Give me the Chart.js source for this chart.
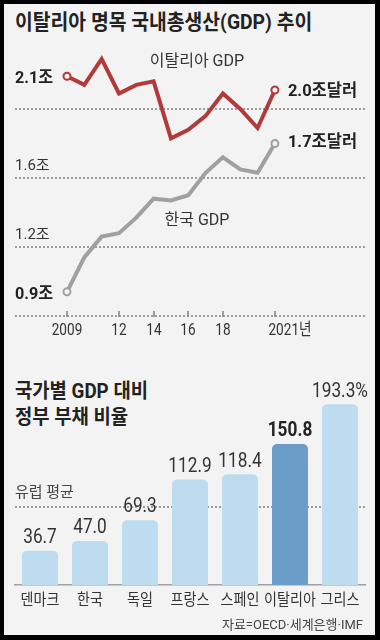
<!DOCTYPE html>
<html lang="ko">
<head>
<meta charset="utf-8">
<script src="https://cdn.jsdelivr.net/npm/chart.js@4.4.1/dist/chart.umd.min.js"></script>
<style>
  body { margin: 0; background: #000; width: 380px; height: 640px; overflow: hidden; position: relative;
         font-family: Roboto, 'Noto Sans CJK KR', sans-serif; }
  #paper { position: absolute; left: 4px; top: 4px; width: 371px; height: 631px; background: #f3f3f3; }
  .title { position: absolute; left: 15px; font-weight: 700; color: #222; white-space: nowrap;
           transform-origin: left center; }
  canvas { position: absolute; left: 0; }
</style>
</head>
<body>
<div id="paper"></div>
<div class="title" style="top:8px; font-size:21px; line-height:28px; transform:scaleX(0.92)">이탈리아 명목 국내총생산(GDP) 추이</div>
<canvas id="gdpChart" width="380" height="350" style="top:0"></canvas>
<div class="title" style="top:378px; font-size:20px; line-height:26px; transform:scaleX(0.94)">국가별 GDP 대비<br>정부 부채 비율</div>
<canvas id="debtChart" width="380" height="290" style="top:350px"></canvas>
<script>
// GDP, 조 달러
const years = [2009, 2010, 2011, 2012, 2013, 2014, 2015, 2016, 2017, 2018, 2019, 2020, 2021];
const italyGdp = [2.19, 2.14, 2.29, 2.09, 2.14, 2.16, 1.83, 1.88, 1.96, 2.09, 2.00, 1.89, 2.11];
const koreaGdp = [0.94, 1.14, 1.26, 1.28, 1.37, 1.48, 1.47, 1.50, 1.63, 1.72, 1.65, 1.63, 1.80];
const italyEnds = ['2.1조', '2.0조달러'];
const koreaEnds = ['0.9조', '1.7조달러'];
const yTicks = [0.8, 1.2, 1.6, 2.0];
const yTickText = ['', '1.2조', '1.6조', ''];
const xTicks = [2009, 2012, 2014, 2016, 2018, 2021];
const xTickText = ['2009', '12', '14', '16', '18', '2021년'];

// 정부 부채 비율, %
const countries = ['덴마크', '한국', '독일', '프랑스', '스페인', '이탈리아', '그리스'];
const debtRatio = [36.7, 47.0, 69.3, 112.9, 118.4, 150.8, 193.3];
const debtText = ['36.7', '47.0', '69.3', '112.9', '118.4', '150.8', '193.3%'];
const euroAverage = 83;
const source = '자료=OECD·세계은행·IMF';

const FONT = "Roboto, 'Noto Sans CJK KR', sans-serif";
const RED = '#b13a3b';
const GRAY = '#a0a0a0';
const DOTS = '#808080';

function say(ctx, str, x, y, size, opt = {}) {
  ctx.save();
  ctx.font = (opt.bold ? '700 ' : '400 ') + size + 'px ' + FONT;
  ctx.fillStyle = opt.color || '#222';
  ctx.textAlign = opt.align || 'center';
  ctx.textBaseline = 'middle';
  ctx.translate(x, y);
  ctx.scale(opt.sx || 1, 1);
  ctx.fillText(str, 0, 0);
  ctx.restore();
}

function dotted(ctx, x0, x1, py) {
  ctx.save();
  ctx.strokeStyle = DOTS;
  ctx.lineWidth = 1.5;
  ctx.setLineDash([2, 2]);
  ctx.beginPath();
  ctx.moveTo(x0, py);
  ctx.lineTo(x1, py);
  ctx.stroke();
  ctx.restore();
}

const endPoint = c => (c.dataIndex === 0 || c.dataIndex === years.length - 1) ? 3.5 : 0;

const gdpLabels = {
  id: 'gdpLabels',
  beforeDatasetsDraw(chart) {
    const { ctx, chartArea, scales: { y } } = chart;
    yTicks.forEach(v => dotted(ctx, chartArea.left, chartArea.right, Math.round(y.getPixelForValue(v))));
  },
  afterDatasetsDraw(chart) {
    const { ctx, scales: { x, y } } = chart;
    const last = years.length - 1;
    ctx.save();
    ctx.strokeStyle = DOTS;
    ctx.lineWidth = 1.5;
    xTicks.forEach((yr, i) => {
      const px = Math.round(x.getPixelForValue(yr));
      ctx.beginPath();
      ctx.moveTo(px, y.bottom + 1);
      ctx.lineTo(px, y.bottom - 5);
      ctx.stroke();
      const shift = i === xTicks.length - 1 ? 15 : 0;
      say(ctx, xTickText[i], px + shift, y.bottom + 15, 17, { color: '#333', sx: 0.8 });
    });
    ctx.restore();

    const x1 = x.getPixelForValue(years[last]);
    say(ctx, italyEnds[0], 15, y.getPixelForValue(italyGdp[0]) + 3, 17, { bold: true, align: 'left', sx: 0.95 });
    say(ctx, italyEnds[1], x1 + 13, y.getPixelForValue(italyGdp[last]) + 2, 17, { bold: true, align: 'left', sx: 0.97 });
    say(ctx, koreaEnds[0], 15, y.getPixelForValue(koreaGdp[0]) + 3, 17, { bold: true, align: 'left', sx: 0.95 });
    say(ctx, koreaEnds[1], x1 + 13, y.getPixelForValue(koreaGdp[last]) - 1, 17, { bold: true, align: 'left', sx: 0.97 });

    say(ctx, '이탈리아 GDP', x.getPixelForValue(2016.5), y.getPixelForValue(2.27), 16, { color: '#333' });
    say(ctx, '한국 GDP', x.getPixelForValue(2016.5), y.getPixelForValue(1.35), 16, { color: '#333' });
  }
};

new Chart(document.getElementById('gdpChart'), {
  type: 'line',
  data: {
    datasets: [{
      data: years.map((yr, i) => ({ x: yr, y: koreaGdp[i] })),
      borderColor: GRAY,
      borderWidth: 4,
      pointRadius: endPoint,
      pointBackgroundColor: '#f3f3f3',
      pointBorderColor: GRAY,
      pointBorderWidth: 2,
      tension: 0
    }, {
      data: years.map((yr, i) => ({ x: yr, y: italyGdp[i] })),
      borderColor: RED,
      borderWidth: 4,
      pointRadius: endPoint,
      pointBackgroundColor: '#f3f3f3',
      pointBorderColor: RED,
      pointBorderWidth: 2,
      tension: 0
    }]
  },
  options: {
    responsive: false,
    animation: false,
    events: [],
    layout: { padding: { left: 15, right: 15, top: 40, bottom: 34 }, autoPadding: false },
    plugins: { legend: { display: false }, tooltip: { enabled: false } },
    scales: {
      x: { type: 'linear', display: false, min: 2006, max: 2026.2 },
      y: {
        min: 0.8,
        max: 2.4,
        afterBuildTicks(axis) { axis.ticks = yTicks.map(v => ({ value: v })); },
        grid: { display: false, drawTicks: false },
        border: { display: false },
        ticks: {
          mirror: true,
          padding: 0,
          labelOffset: -12,
          color: '#333',
          font: { size: 15, family: FONT },
          callback: v => yTickText[yTicks.indexOf(v)] || ''
        }
      }
    }
  },
  plugins: [gdpLabels]
});

const debtLabels = {
  id: 'debtLabels',
  beforeDatasetsDraw(chart) {
    const { ctx, chartArea, scales: { y } } = chart;
    const py = Math.round(y.getPixelForValue(euroAverage));
    dotted(ctx, chartArea.left, chartArea.right, py);
    say(ctx, '유럽 평균', 15, py - 14, 15, { align: 'left', color: '#444' });
  },
  afterDatasetsDraw(chart) {
    const { ctx, scales: { x, y } } = chart;
    const meta = chart.getDatasetMeta(0);
    meta.data.forEach((bar, i) => {
      say(ctx, debtText[i], bar.x, bar.y - 13, 21, { bold: i === 5, sx: 0.82, color: i === 5 ? '#222' : '#333' });
      say(ctx, countries[i], x.getPixelForValue(i), y.bottom + 16, 16, { sx: 0.88, color: '#333' });
    });
    say(ctx, source, 363, y.bottom + 41, 13, { align: 'right', color: '#444' });
  }
};

new Chart(document.getElementById('debtChart'), {
  type: 'bar',
  data: {
    labels: countries,
    datasets: [{
      data: debtRatio,
      backgroundColor: countries.map(c => c === '이탈리아' ? '#6a9dc8' : '#bddcef'),
      borderRadius: { topLeft: 5, topRight: 5, bottomLeft: 0, bottomRight: 0 },
      borderSkipped: 'start',
      barPercentage: 0.72,
      categoryPercentage: 1
    }]
  },
  options: {
    responsive: false,
    animation: false,
    events: [],
    layout: { padding: { left: 15, right: 15, top: 48, bottom: 0 }, autoPadding: false },
    plugins: { legend: { display: false }, tooltip: { enabled: false } },
    scales: {
      x: {
        grid: { display: false },
        border: { color: '#a0a0a0', width: 1.5 },
        ticks: { display: false },
        afterFit(scale) { scale.height = 55; }
      },
      y: { display: false, min: 0, max: 200 }
    }
  },
  plugins: [debtLabels]
});
</script>
</body>
</html>
